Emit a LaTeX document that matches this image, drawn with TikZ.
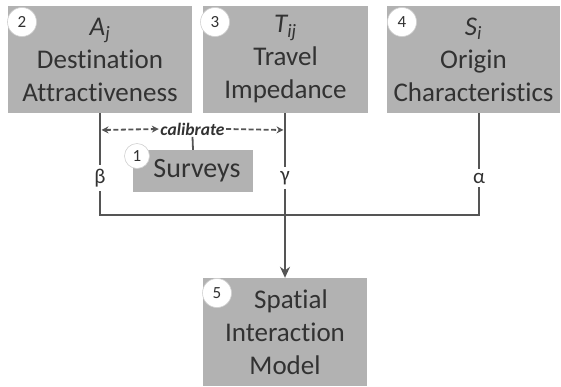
\documentclass[tikz,border=0pt]{standalone}
\usepackage{fontspec}
\setmainfont{Carlito}[Ligatures=NoCommon]
\usepackage{xcolor}
\usetikzlibrary{arrows.meta}
\definecolor{boxgray}{RGB}{178,178,178}
\definecolor{ink}{RGB}{50,50,50}
\definecolor{wire}{RGB}{85,85,85}

\begin{document}
\begin{tikzpicture}[x=1pt,y=-1pt,
        box/.style={fill=boxgray, inner sep=0pt, align=center, text=ink,
            font=\fontsize{27}{33}\selectfont},
        num/.style={circle, fill=white, draw=boxgray!60, line width=0.6pt, minimum size=29pt,
            inner sep=0pt, text=ink, font=\fontsize{17}{17}\selectfont},
        greek/.style={fill=white, inner sep=4pt, text=ink, font=\fontsize{21}{21}\selectfont},
        link/.style={wire, line width=2.4pt}]
        \useasboundingbox (0,0) rectangle (561,386);

        \node[box, minimum width=184pt, minimum height=107pt] (dest) at (100,59.5)
            {\textit{A\textsubscript{j}}\\Destination\\Attractiveness};
        \node[box, minimum width=165pt, minimum height=107pt] (imp) at (285.5,59.5)
            {\textit{T\textsubscript{ij}}\\Travel\\Impedance};
        \node[box, minimum width=173pt, minimum height=107pt] (orig) at (473.5,59.5)
            {\textit{S\textsubscript{i}}\\Origin\\Characteristics};
        \node[box, minimum width=164pt, minimum height=108pt] (sim) at (285,332)
            {\hspace*{12pt}Spatial\\Interaction\\Model};
        \node[box, minimum width=120pt, minimum height=42pt, font=\fontsize{28}{28}\selectfont]
            (surv) at (193,171) {\hspace*{8pt}Surveys};

        \node[num] (n2) at (22,22) {2};
        \node[num] (n3) at (215,22) {3};
        \node[num] (n4) at (402,22) {4};
        \node[num] (n5) at (217,293) {5};
        \node[num, minimum size=25pt] (n1) at (137,156) {1};

        \node[greek] (beta) at (100,178) {β};
        \node[greek] (gamma) at (285,178) {γ};
        \node[greek] (alpha) at (479,178) {α};

        \coordinate (jl) at (100,215);
        \coordinate (jr) at (479,215);

        \draw[link] (dest.south) -- (beta);
        \draw[link] (imp.south -| gamma) -- (gamma);
        \draw[link] (orig.south -| alpha) -- (alpha);
        \draw[link] (beta) -- (jl) -- (jr) -- (alpha);
        \draw[link, -{Stealth[length=11pt, width=10pt]}] (gamma) -- (sim.north -| gamma);

        \coordinate (cl) at (101.5,130);
        \coordinate (cr) at (283.5,130);
        \node[fill=white, inner sep=1.5pt, text=ink, font=\fontsize{17.5}{17.5}\selectfont\itshape\bfseries]
            (calib) at (192.5,129) {calibrate};
        \draw[wire, line width=1.8pt, dash pattern=on 5pt off 2.5pt,
            {Stealth[length=7pt, width=7pt]}-{Stealth[length=7pt, width=7pt]}] (cl) -- (calib.west);
        \draw[wire, line width=1.8pt, dash pattern=on 5pt off 2.5pt, -{Stealth[length=7pt, width=7pt]}]
            (calib.east) -- (cr);
        \draw[wire, line width=1.8pt] (calib.south) -- (surv.north);
\end{tikzpicture}
\end{document}
